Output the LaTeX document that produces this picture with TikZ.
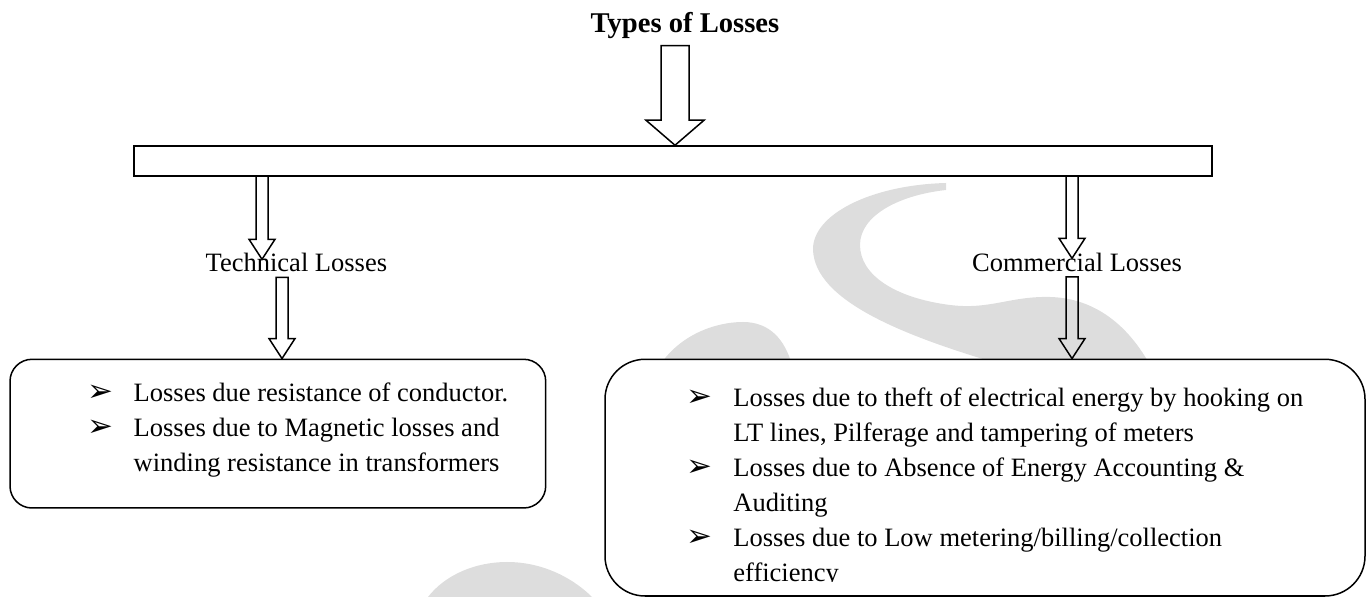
\documentclass[tikz,border=0pt]{standalone}
\usepackage{fontspec}
\setmainfont{Liberation Serif}
\newfontfamily\dingfont{DejaVu Sans}
\usetikzlibrary{calc}
\definecolor{wmgray}{RGB}{221,221,221}
\tikzset{
  wmark/.style={fill=wmgray},
  boxline/.style={draw=black, line width=0.75pt, fill=white},
  blockline/.style={draw=black, line width=0.75pt},
  txt/.style={anchor=base west, inner sep=0pt, font=\fontsize{13.25}{16}\selectfont},
  bul/.style={anchor=base west, inner sep=0pt, font=\dingfont\fontsize{15.5}{16}\selectfont},
}
% hollow down arrow: top, tip, shaft half, head half, head length
\newcommand\hollowarrow[5]{%
  \draw[blockline] let \p1=(#1), \p2=(#2) in
    (\x1-#3,\y1) -- (\x1+#3,\y1) -- (\x1+#3,\y2+#5) -- (\x1+#4,\y2+#5)
    -- (\x1,\y2) -- (\x1-#4,\y2+#5) -- (\x1-#3,\y2+#5) -- cycle;}
\begin{document}
\begin{tikzpicture}[x=0.5pt,y=-0.5pt]
\useasboundingbox (0,0) rectangle (1369,597);
% watermark
\fill[wmark] (946,183) .. controls (870,185) and (812,215) .. (813,250)
 .. controls (815,300) and (900,335) .. (1003,365) -- (1150,365)
 .. controls (1125,320) and (1090,298) .. (1050,297)
 .. controls (1010,296) and (990,310) .. (950,305)
 .. controls (895,298) and (860,275) .. (860,245)
 .. controls (860,215) and (900,195) .. (946,190) -- cycle;
\fill[wmark] (660,365) .. controls (680,335) and (715,322) .. (743,322)
 .. controls (770,322) and (785,340) .. (792,365) -- cycle;
\fill[wmark] (428,597) .. controls (445,575) and (475,562) .. (507,562)
 .. controls (545,562) and (575,580) .. (592,597) -- cycle;
% boxes
\node[boxline, inner sep=0pt, minimum width=539pt, minimum height=15pt] (bar) at (673,161) {};
\node[boxline, rounded corners=11pt, minimum width=267.85pt, minimum height=74.35pt] (techbox) at (277.85,433.65) {};
\node[boxline, rounded corners=20pt, minimum width=380pt, minimum height=118.35pt] (commbox) at (985,477.65) {};
% headings
\node[anchor=base, inner sep=0pt, font=\fontsize{14.3}{17}\selectfont\bfseries] (types) at (685,32.7) {Types of Losses};
\node[txt, anchor=base] (tech) at (296.4,272) {Technical Losses};
\node[txt, anchor=base] (comm) at (1077,272) {Commercial Losses};
% arrows
\coordinate (typesTop) at (675,45.7);
\coordinate (techTop) at (262,176);
\coordinate (techTip) at (262,259.3);
\coordinate (techTop2) at (282,277.3);
\coordinate (commTop) at (1072,176);
\coordinate (commTip) at (1072,258.3);
\coordinate (commTop2) at (1072,277);
\hollowarrow{typesTop}{bar.north -| typesTop}{7pt}{14.5pt}{12.5pt}
\hollowarrow{techTop}{techTip}{3pt}{6.5pt}{10pt}
\hollowarrow{commTop}{commTip}{3pt}{6.5pt}{10pt}
\hollowarrow{techTop2}{techbox.north -| techTop2}{3pt}{6.5pt}{10pt}
\hollowarrow{commTop2}{commbox.north -| commTop2}{3pt}{6.5pt}{10pt}
% technical losses
\node[bul] (tb1) at (87,401.7) {➢};
\node[txt] (tl1) at (133.3,401.7) {Losses due resistance of conductor.};
\node[bul] (tb2) at (87,436.7) {➢};
\node[txt] (tl2) at (133.3,436.7) {Losses due to Magnetic losses and};
\node[txt] (tl3) at (133.3,471.7) {winding resistance in transformers};
% commercial losses
\node[bul] (cb1) at (686,406.7) {➢};
\node[txt] (cl1) at (733,406.7) {Losses due to theft of electrical energy by hooking on};
\node[txt] (cl2) at (733,441.7) {LT lines, Pilferage and tampering of meters};
\node[bul] (cb2) at (686,476.7) {➢};
\node[txt] (cl3) at (733,476.7) {Losses due to Absence of Energy Accounting \&};
\node[txt] (cl4) at (733,511.7) {Auditing};
\node[bul] (cb3) at (686,546.7) {➢};
\node[txt] (cl5) at (733,546.7) {Losses due to Low metering/billing/collection};
\begin{scope}
\clip (605,359) rectangle (1365,582);
\node[txt] (cl6) at (733,581.7) {efficiency};
\end{scope}
\end{tikzpicture}
\end{document}
